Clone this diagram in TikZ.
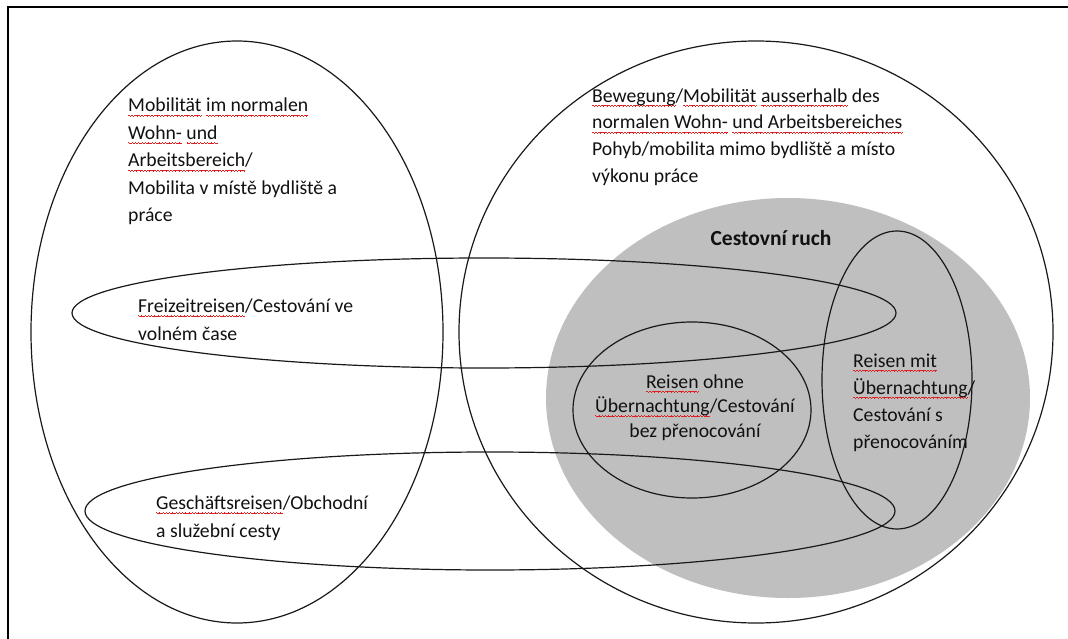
\documentclass[tikz,border=0pt]{standalone}
\usepackage{fontspec}
\setmainfont{Carlito}
\usepackage{xcolor}
\definecolor{fillgray}{HTML}{BFBFBF}
\definecolor{txtcol}{HTML}{111111}
\definecolor{spellred}{HTML}{E02020}
\newsavebox\spkbox
\newcommand\wavebit{%
  \vrule height -2.6pt depth 3.6pt width 0.8pt%
  \vrule height -3.2pt depth 4.2pt width 0.8pt%
  \vrule height -3.8pt depth 4.8pt width 0.8pt%
  \vrule height -3.2pt depth 4.2pt width 0.8pt}
\newcommand\spk[1]{\sbox\spkbox{#1}\rlap{\color{spellred}\hbox to \wd\spkbox{\xleaders\hbox{\wavebit}\hfil}}\usebox\spkbox}
\begin{document}
\begin{tikzpicture}[x=1pt,y=-1pt,
  frameline/.style={line width=1.5pt,black},
  ring/.style={line width=1.2pt,black!90},
  txt/.style={inner sep=0pt,align=left,text=txtcol,font=\fontsize{19.7}{27.5}\selectfont},
  ctxt/.style={inner sep=0pt,align=center,text=txtcol,font=\fontsize{19.7}{24.5}\selectfont}]
\useasboundingbox (0,0) rectangle (1068,639);
\fill[white] (0,0) rectangle (1068,639);
% frame (cut off at right and bottom)
\draw[frameline] (1068,7) -- (8,7) -- (8,639);
% tourism area
\fill[fillgray] (788,398) ellipse [x radius=242, y radius=200];
% big ellipses
\draw[ring] (237,332) ellipse [x radius=206, y radius=291];
\draw[ring] (756,332) ellipse [x radius=297, y radius=291];
% horizontal ellipses
\draw[ring] (484,313) ellipse [x radius=412, y radius=55];
\draw[ring] (490,511) ellipse [x radius=405, y radius=59];
% inner ellipses
\draw[ring] (692,410) ellipse [x radius=119, y radius=88];
\draw[ring] (897,380) ellipse [x radius=75, y radius=149];
% texts (anchor = baseline of the last line)
\node[txt,anchor=base west] (home) at (128,222)
  {\spk{Mobilität} \spk{im normalen}\\\spk{Wohn-} \spk{und}\\\spk{Arbeitsbereich}/\\Mobilita v místě bydliště a\\práce};
\node[txt,anchor=base west,font=\fontsize{19.7}{27}\selectfont] (away) at (592,183)
  {\spk{Bewegung}/\spk{Mobilität} \spk{ausserhalb} des\\\spk{normalen Wohn-} \spk{und Arbeitsbereiches}\\Pohyb/mobilita mimo bydliště a místo\\výkonu práce};
\node[inner sep=0pt,text=txtcol,font=\fontsize{21.5}{27}\selectfont\bfseries,anchor=base] (cr) at (771,245) {Cestovní ruch};
\node[txt,anchor=base west] (leisure) at (138,340)
  {\spk{Freizeitreisen}/Cestování ve\\volném čase};
\node[txt,anchor=base west] (business) at (156,537)
  {\spk{Geschäftsreisen}/Obchodní\\a služební cesty};
\node[ctxt,anchor=base] (day) at (695,437)
  {\spk{Reisen} ohne\\\spk{Übernachtung}/Cestování\\bez přenocování};
\node[txt,anchor=base west,font=\fontsize{19.7}{27}\selectfont] (overnight) at (853,448)
  {\spk{Reisen mit}\\\spk{Übernachtung}/\\Cestování s\\přenocováním};
\end{tikzpicture}
\end{document}
